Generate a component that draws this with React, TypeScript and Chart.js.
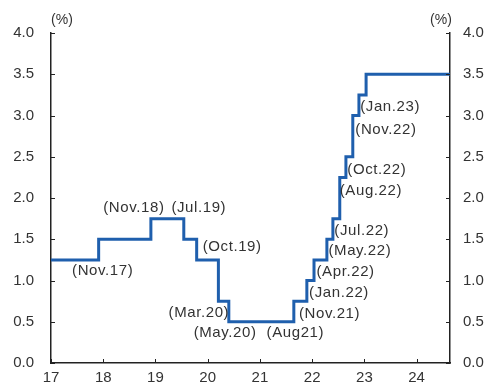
import React, { useEffect, useRef } from "react";
import { Chart, registerables } from "chart.js";

Chart.register(...registerables);

// Bank base-rate decisions (date of change, new rate in %)
const startDate = "2017-01-01";
const startRate = 1.25;
const endDate = "2024-08-22";
const decisionDates = [
  "2017-11-30", "2018-11-30", "2019-07-18", "2019-10-16", "2020-03-16",
  "2020-05-28", "2021-08-26", "2021-11-25", "2022-01-14", "2022-04-14",
  "2022-05-26", "2022-07-13", "2022-08-25", "2022-10-12", "2022-11-24",
  "2023-01-13",
];
const newRates = [
  1.5, 1.75, 1.5, 1.25, 0.75, 0.5, 0.75, 1.0, 1.25, 1.5, 1.75, 2.25, 2.5, 3.0,
  3.25, 3.5,
];
const decisionLabels = [
  "(Nov.17)", "(Nov.18)", "(Jul.19)", "(Oct.19)", "(Mar.20)", "(May.20)",
  "(Aug21)", "(Nov.21)", "(Jan.22)", "(Apr.22)", "(May.22)", "(Jul.22)",
  "(Aug.22)", "(Oct.22)", "(Nov.22)", "(Jan.23)",
];
const xTickYears = [2017, 2018, 2019, 2020, 2021, 2022, 2023, 2024];
const yTicks = [0, 0.5, 1, 1.5, 2, 2.5, 3, 3.5, 4];
const unitLabel = "(%)";

// label placement (pixel offsets from the step at previous-rate level)
const labelOffsets: [number, number][] = [
  [4, 11], [-17, -31], [15, -10.6], [35.5, 7.75], [-19.5, 53], [-3.7, 32],
  [1.5, 11], [22.7, 13], [25, 12.5], [18.7, 12], [27, 12], [22, 12.4],
  [25, 13.6], [24, 13], [27, 14.5], [24, 12],
];

function toYear(d: string): number {
  const [y, m, day] = d.split("-").map(Number);
  const t0 = Date.UTC(y, 0, 1);
  const t1 = Date.UTC(y + 1, 0, 1);
  return y + (Date.UTC(y, m - 1, day) - t0) / (t1 - t0);
}

const FONT = "'Liberation Sans', Arial, sans-serif";
const TEXT = "#333333";
const AXIS = "#222222";
const LINE = "#1f5fad";

export default function App() {
  const ref = useRef<HTMLCanvasElement | null>(null);

  useEffect(() => {
    document.body.style.margin = "0";
    const canvas = ref.current!;
    const pts: { x: number; y: number }[] = [{ x: toYear(startDate), y: startRate }];
    decisionDates.forEach((d, i) => pts.push({ x: toYear(d), y: newRates[i] }));
    pts.push({ x: toYear(endDate), y: newRates[newRates.length - 1] });

    const overlay = {
      id: "overlay",
      afterDraw(chart: any) {
        const ctx = chart.ctx;
        const xs = chart.scales.x;
        const ys = chart.scales.y;
        const { left, right, bottom } = chart.chartArea;
        ctx.save();
        ctx.strokeStyle = AXIS;
        ctx.lineWidth = 1;
        // inward ticks
        xTickYears.forEach((yr) => {
          const px = Math.round(xs.getPixelForValue(yr)) + 0.5;
          ctx.beginPath();
          ctx.moveTo(px, bottom);
          ctx.lineTo(px, bottom - 4);
          ctx.stroke();
        });
        yTicks.forEach((v) => {
          const py = Math.round(ys.getPixelForValue(v)) + 0.5;
          ctx.beginPath();
          ctx.moveTo(left, py);
          ctx.lineTo(left + 4, py);
          ctx.moveTo(right, py);
          ctx.lineTo(right - 4, py);
          ctx.stroke();
        });
        // unit labels
        ctx.fillStyle = TEXT;
        ctx.font = `14px ${FONT}`;
        ctx.textAlign = "center";
        ctx.textBaseline = "middle";
        ctx.fillText(unitLabel, left + 11, 20);
        ctx.fillText(unitLabel, right - 9, 20);
        // step labels
        ctx.font = `15px ${FONT}`;
        try { (ctx as any).letterSpacing = "0.6px"; } catch (e) {}
        decisionDates.forEach((d, i) => {
          const prev = i === 0 ? startRate : newRates[i - 1];
          const px = xs.getPixelForValue(toYear(d)) + labelOffsets[i][0];
          const py = ys.getPixelForValue(prev) + labelOffsets[i][1];
          ctx.fillText(decisionLabels[i], px, py);
        });
        ctx.restore();
      },
    };

    const fitY = (w: number) => (s: any) => {
      s.width = w;
      s.paddingTop = 0;
      s.paddingBottom = 0;
    };

    const chart = new Chart(canvas, {
      type: "line",
      data: {
        datasets: [
          {
            data: pts,
            borderColor: LINE,
            borderWidth: 3,
            pointRadius: 0,
            stepped: "before",
            fill: false,
          },
        ],
      },
      options: {
        animation: false,
        responsive: false,
        layout: { padding: { top: 33, left: 0, right: 0, bottom: 0 } },
        plugins: { legend: { display: false }, tooltip: { enabled: false } },
        scales: {
          x: {
            type: "linear",
            min: toYear(startDate),
            max: toYear(endDate),
            grid: { display: false, drawTicks: false },
            border: { display: true, color: AXIS, width: 1.5 },
            ticks: {
              stepSize: 1,
              includeBounds: false,
              autoSkip: false,
              maxRotation: 0,
              padding: 6,
              color: TEXT,
              font: { family: FONT, size: 15 },
              callback: (v: any) =>
                Number.isInteger(v) ? String(v - 2000) : "",
            },
            afterFit: (s: any) => {
              s.height = 22;
              s.paddingLeft = 0;
              s.paddingRight = 0;
            },
          },
          y: {
            position: "left",
            min: 0,
            max: 4,
            grid: { display: false, drawTicks: false },
            border: { display: true, color: AXIS, width: 1.5 },
            ticks: {
              stepSize: 0.5,
              padding: 17,
              color: TEXT,
              font: { family: FONT, size: 15 },
              callback: (v: any) => Number(v).toFixed(1),
            },
            afterFit: fitY(51),
          },
          y2: {
            position: "right",
            min: 0,
            max: 4,
            grid: { display: false, drawTicks: false },
            border: { display: true, color: AXIS, width: 1.5 },
            ticks: {
              stepSize: 0.5,
              padding: 13,
              color: TEXT,
              font: { family: FONT, size: 15 },
              callback: (v: any) => Number(v).toFixed(1),
            },
            afterFit: fitY(36),
          },
        },
      },
      plugins: [overlay],
    } as any);

    return () => chart.destroy();
  }, []);

  return (
    <div style={{ width: 486, height: 385 }}>
      <canvas ref={ref} width={486} height={385} />
    </div>
  );
}
